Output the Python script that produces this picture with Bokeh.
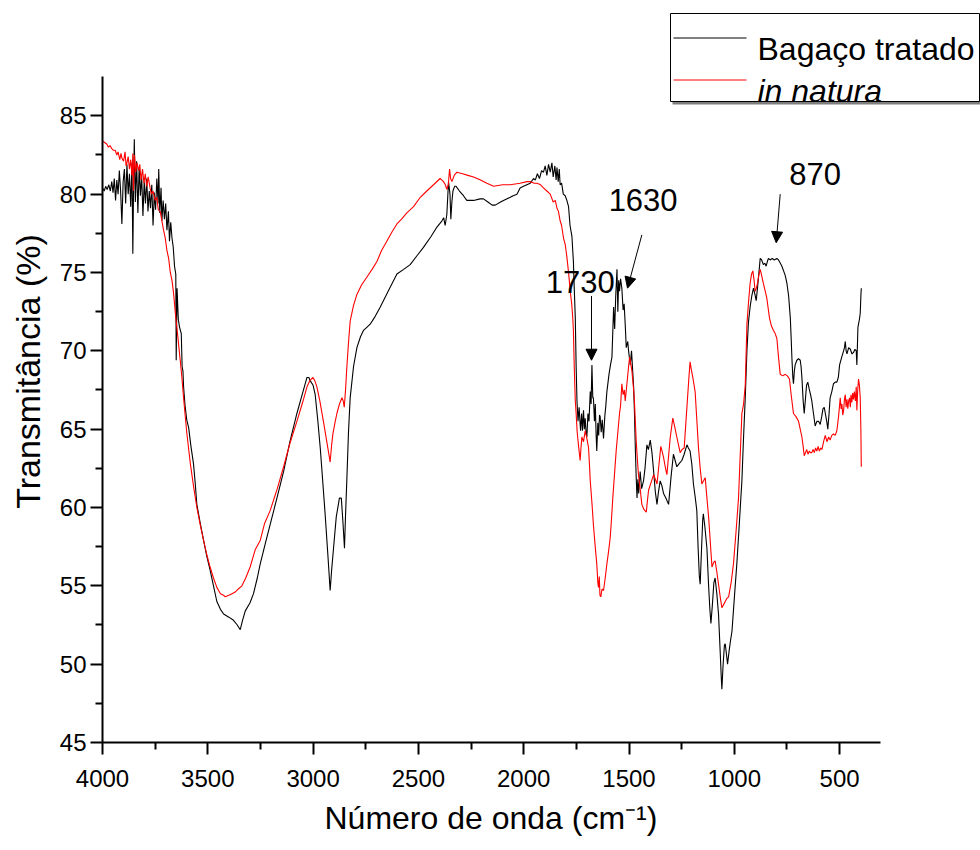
from bokeh.plotting import figure
from bokeh.models import Range1d, FixedTicker, Label, Arrow, NormalHead, BoxAnnotation, Title
from bokeh.embed import file_html
from bokeh.resources import INLINE

# ---------------- data ----------------
tratado_wn = [4000, 3992, 3985, 3978, 3970, 3963, 3956, 3950, 3944, 3938, 3932, 3926, 3920, 3914, 3908, 3902,
              3896, 3890, 3884, 3878, 3872, 3866, 3860, 3856, 3852, 3849, 3844, 3838, 3832, 3826, 3820, 3814,
              3808, 3802, 3796, 3790, 3784, 3778, 3772, 3766, 3760, 3754, 3748, 3742, 3736, 3733, 3728, 3722,
              3718, 3712, 3706, 3700, 3694, 3687, 3682, 3676, 3670, 3664, 3658, 3652, 3650, 3646, 3640, 3634,
              3626, 3622, 3618, 3615, 3608, 3600, 3591, 3580, 3568, 3560, 3552, 3536, 3520, 3505, 3489, 3473,
              3457, 3440, 3425, 3400, 3378, 3360, 3346, 3335, 3322, 3300, 3283, 3265, 3251, 3225, 3204, 3170,
              3140, 3110, 3077, 3050, 3029, 3020, 3014, 3000, 2990, 2978, 2966, 2955, 2943, 2930, 2919, 2912,
              2903, 2890, 2875, 2866, 2858, 2851, 2846, 2840, 2832, 2824, 2808, 2792, 2775, 2761, 2745, 2729,
              2705, 2681, 2640, 2602, 2570, 2539, 2505, 2476, 2440, 2412, 2388, 2380, 2373, 2365, 2357, 2350,
              2346, 2341, 2336, 2328, 2321, 2305, 2286, 2270, 2238, 2207, 2191, 2170, 2150, 2135, 2110, 2096,
              2064, 2050, 2032, 2017, 2001, 1985, 1969, 1953, 1945, 1935, 1925, 1915, 1906, 1898, 1890, 1882,
              1874, 1866, 1860, 1852, 1846, 1842, 1836, 1831, 1827, 1820, 1812, 1803, 1795, 1787, 1780, 1771,
              1764, 1760, 1755, 1751, 1747, 1742, 1737, 1730, 1725, 1721, 1716, 1712, 1708, 1704, 1700, 1695,
              1690, 1684, 1680, 1676, 1672, 1669, 1664, 1660, 1656, 1653, 1648, 1644, 1640, 1637, 1632, 1627,
              1621, 1615, 1610, 1605, 1595, 1588, 1581, 1573, 1568, 1563, 1557, 1553, 1549, 1545, 1540, 1534,
              1528, 1523, 1518, 1513, 1506, 1502, 1494, 1488, 1482, 1478, 1474, 1470, 1466, 1462, 1458, 1454,
              1447, 1440, 1431, 1424, 1415, 1408, 1399, 1391, 1383, 1375, 1367, 1360, 1352, 1344, 1336, 1325,
              1312, 1300, 1289, 1281, 1273, 1262, 1249, 1238, 1225, 1218, 1210, 1202, 1194, 1186, 1178, 1172,
              1166, 1162, 1156, 1150, 1147, 1140, 1130, 1122, 1116, 1111, 1104, 1097, 1091, 1083, 1075, 1067,
              1062, 1059, 1053, 1047, 1043, 1037, 1032, 1025, 1018, 1011, 1000, 988, 976, 964, 956, 948,
              940, 933, 925, 917, 909, 902, 896, 890, 885, 877, 870, 862, 855, 849, 843, 838,
              830, 820, 810, 798, 790, 782, 774, 766, 758, 750, 742, 734, 730, 726, 722, 719,
              715, 711, 703, 695, 687, 683, 679, 673, 668, 663, 657, 651, 645, 638, 632, 624,
              616, 608, 600, 592, 585, 579, 573, 565, 560, 556, 550, 545, 537, 529, 521, 513,
              506, 500, 490, 481, 477, 473, 469, 465, 457, 449, 441, 434, 427, 421, 418, 413,
              406, 402, 399, 397]
tratado_t = [80.4, 80.2, 80.5, 80.3, 80.6, 80.2, 80.8, 80.1, 81.0, 79.6, 80.9, 80.0, 81.5, 80.2, 78.1, 80.8,
             81.6, 79.4, 81.9, 80.0, 81.3, 79.2, 82.0, 76.2, 81.0, 83.5, 79.5, 82.1, 78.8, 81.7, 79.9, 81.2,
             78.6, 80.8, 79.4, 81.0, 78.9, 80.2, 79.1, 80.6, 78.0, 80.1, 79.0, 81.0, 79.4, 81.6, 78.8, 80.4,
             78.3, 79.6, 78.4, 79.4, 77.7, 78.9, 77.0, 78.2, 77.2, 76.6, 75.4, 74.9, 69.4, 74.0, 72.0, 71.5,
             71.1, 69.0, 68.7, 67.7, 66.5, 65.6, 65.1, 63.9, 62.8, 61.6, 60.2, 59.0, 57.9, 56.9, 56.0, 55.0,
             54.0, 53.5, 53.2, 53.0, 52.8, 52.5, 52.2, 52.8, 53.4, 53.9, 54.5, 55.5, 56.4, 57.8, 58.9, 60.7,
             62.3, 64.2, 66.0, 67.3, 68.3, 68.3, 68.1, 67.8, 67.2, 65.6, 63.8, 61.8, 59.6, 57.0, 54.7, 56.0,
             57.4, 59.4, 60.6, 60.6, 59.0, 57.4, 59.5, 61.7, 64.8, 67.0, 69.0, 70.2, 70.9, 71.3, 71.5, 71.7,
             72.2, 72.8, 73.9, 74.9, 75.2, 75.5, 76.1, 76.6, 77.3, 77.9, 78.3, 78.5, 78.0, 78.7, 80.8, 80.0,
             78.4, 79.5, 80.2, 80.5, 80.5, 80.2, 79.9, 79.6, 79.6, 79.7, 79.7, 79.5, 79.3, 79.3, 79.5, 79.6,
             79.8, 79.9, 80.0, 80.4, 80.5, 80.6, 80.7, 81.0, 80.9, 81.3, 81.0, 81.5, 81.4, 81.8, 81.2, 81.9,
             81.4, 82.0, 81.1, 81.8, 80.9, 81.7, 80.8, 81.6, 80.6, 80.7, 80.0, 79.9, 79.6, 79.2, 78.0, 77.3,
             75.7, 74.0, 72.1, 69.0, 66.8, 65.5, 66.4, 64.9, 66.0, 64.9, 66.2, 65.0, 65.7, 64.8, 64.5, 66.0,
             65.5, 67.4, 66.6, 69.1, 67.0, 67.0, 65.5, 66.6, 64.6, 63.6, 65.4, 64.6, 65.9, 65.8, 64.8, 65.6,
             64.4, 65.8, 66.5, 67.4, 68.5, 69.1, 69.6, 72.8, 71.4, 73.5, 75.2, 72.5, 74.5, 73.8, 74.6, 74.0,
             72.6, 73.0, 71.7, 70.2, 70.6, 70.0, 69.1, 70.0, 68.6, 67.7, 66.0, 63.8, 62.0, 60.6, 61.8, 60.9,
             62.3, 61.2, 61.7, 62.5, 64.0, 63.7, 64.3, 63.5, 62.3, 61.0, 60.2, 61.0, 61.7, 61.4, 60.9, 60.6,
             60.2, 62.0, 63.4, 63.0, 62.6, 62.8, 63.0, 63.4, 64.0, 63.8, 63.6, 62.8, 61.5, 60.7, 59.8, 57.5,
             55.6, 55.1, 57.2, 59.2, 59.6, 58.8, 57.4, 55.0, 53.5, 52.6, 53.8, 55.2, 55.5, 54.5, 53.2, 50.8,
             49.2, 48.4, 50.0, 51.2, 51.3, 50.6, 50.0, 50.8, 51.5, 52.1, 54.2, 56.4, 59.0, 61.7, 64.5, 67.0,
             70.0, 71.8, 72.8, 73.5, 74.0, 73.6, 73.2, 74.0, 74.7, 75.9, 75.8, 75.5, 75.6, 75.4, 75.7, 75.9,
             75.8, 75.9, 75.8, 75.9, 75.8, 75.6, 75.4, 75.1, 74.8, 74.3, 73.5, 72.1, 70.8, 69.4, 68.3, 67.9,
             68.7, 69.1, 69.4, 69.5, 69.4, 69.0, 68.3, 66.8, 66.0, 66.8, 67.8, 68.0, 67.6, 67.2, 66.8, 66.0,
             65.2, 65.5, 65.5, 65.3, 65.8, 66.3, 66.4, 65.8, 65.4, 65.0, 66.0, 67.0, 67.4, 67.9, 68.0, 68.0,
             68.3, 69.1, 69.6, 70.0, 70.2, 70.6, 70.0, 69.8, 70.2, 70.1, 69.8, 69.9, 70.1, 70.0, 69.1, 71.5,
             72.0, 72.4, 73.5, 74.0]

natura_wn = [4000, 3990, 3980, 3972, 3964, 3956, 3948, 3940, 3932, 3926, 3918, 3912, 3908, 3900, 3893, 3888,
             3884, 3878, 3872, 3866, 3860, 3856, 3853, 3848, 3842, 3836, 3829, 3823, 3817, 3810, 3803, 3797,
             3790, 3783, 3774, 3768, 3760, 3750, 3742, 3735, 3726, 3718, 3710, 3702, 3694, 3686, 3678, 3670,
             3662, 3654, 3647, 3640, 3631, 3623, 3615, 3600, 3583, 3567, 3552, 3536, 3520, 3505, 3489, 3473,
             3457, 3440, 3425, 3417, 3400, 3385, 3370, 3355, 3338, 3320, 3299, 3275, 3251, 3230, 3204, 3170,
             3140, 3110, 3077, 3050, 3029, 3015, 3001, 2992, 2982, 2968, 2951, 2935, 2919, 2912, 2906, 2895,
             2887, 2875, 2863, 2857, 2852, 2846, 2840, 2832, 2824, 2808, 2792, 2770, 2745, 2720, 2697, 2675,
             2650, 2625, 2602, 2580, 2555, 2523, 2491, 2460, 2428, 2397, 2388, 2381, 2372, 2365, 2358, 2352,
             2347, 2341, 2330, 2317, 2290, 2265, 2238, 2205, 2175, 2143, 2100, 2064, 2017, 1985, 1969, 1950,
             1937, 1920, 1906, 1890, 1874, 1860, 1850, 1842, 1835, 1827, 1820, 1811, 1803, 1795, 1787, 1779,
             1772, 1767, 1764, 1760, 1755, 1751, 1746, 1740, 1736, 1732, 1728, 1724, 1716, 1708, 1700, 1692,
             1688, 1684, 1676, 1669, 1661, 1653, 1648, 1645, 1641, 1638, 1634, 1628, 1621, 1613, 1605, 1597,
             1589, 1583, 1577, 1569, 1561, 1553, 1545, 1540, 1534, 1528, 1522, 1518, 1512, 1507, 1502, 1497,
             1492, 1486, 1480, 1475, 1470, 1466, 1460, 1455, 1447, 1439, 1430, 1418, 1412, 1407, 1395, 1383,
             1375, 1367, 1358, 1349, 1343, 1336, 1328, 1320, 1312, 1304, 1298, 1292, 1282, 1273, 1265, 1257,
             1248, 1238, 1230, 1222, 1216, 1210, 1204, 1197, 1192, 1186, 1178, 1170, 1162, 1154, 1146, 1138,
             1130, 1122, 1114, 1106, 1098, 1091, 1083, 1075, 1067, 1059, 1051, 1043, 1035, 1027, 1015, 1004,
             992, 980, 972, 964, 956, 948, 940, 933, 925, 918, 912, 906, 901, 895, 890, 884,
             877, 870, 862, 855, 846, 840, 833, 824, 814, 806, 798, 790, 782, 770, 758, 748,
             738, 730, 719, 707, 695, 687, 679, 673, 668, 662, 656, 650, 644, 638, 632, 626,
             620, 614, 608, 602, 596, 590, 584, 576, 568, 560, 552, 545, 537, 529, 521, 513,
             505, 497, 493, 489, 485, 481, 477, 473, 469, 465, 461, 457, 453, 449, 446, 442,
             438, 434, 430, 425, 421, 418, 414, 410, 406, 402, 399, 397]
natura_t = [83.4, 83.3, 83.2, 83.0, 83.1, 82.9, 82.8, 82.8, 82.5, 82.7, 82.2, 82.6, 82.3, 82.1, 82.7, 81.8,
            82.0, 82.4, 81.6, 82.2, 81.2, 82.6, 80.2, 82.5, 81.4, 82.0, 81.5, 81.9, 80.9, 81.6, 80.7, 81.3,
            80.5, 81.1, 80.4, 80.0, 80.2, 79.6, 79.8, 79.0, 78.9, 78.3, 77.7, 77.2, 76.4, 75.9, 75.0, 74.5,
            73.6, 72.4, 71.5, 70.6, 69.4, 68.3, 67.0, 64.8, 62.8, 61.3, 60.0, 58.9, 57.9, 57.0, 56.2, 55.5,
            54.9, 54.5, 54.4, 54.3, 54.4, 54.5, 54.6, 54.8, 55.0, 55.5, 56.2, 57.3, 57.9, 59.0, 59.8, 61.2,
            62.6, 64.1, 65.5, 66.7, 67.7, 68.1, 68.3, 68.1, 67.7, 66.8, 65.5, 64.2, 62.9, 64.0, 64.7, 65.5,
            66.0, 66.6, 67.0, 66.8, 66.4, 67.5, 68.9, 70.5, 71.9, 72.9, 73.6, 74.2, 74.7, 75.2, 75.7, 76.4,
            77.0, 77.6, 78.1, 78.4, 78.8, 79.2, 79.8, 80.2, 80.6, 81.0, 80.9, 80.8, 80.6, 80.3, 80.6, 81.6,
            81.0, 80.8, 81.2, 81.4, 81.3, 81.2, 81.1, 80.9, 80.7, 80.5, 80.6, 80.6, 80.7, 80.8, 80.8, 80.7,
            80.7, 80.6, 80.4, 80.2, 80.0, 79.5, 79.6, 79.1, 78.9, 78.3, 78.0, 77.2, 76.8, 76.0, 75.0, 73.8,
            73.0, 72.1, 71.3, 69.0, 66.8, 66.0, 64.8, 64.0, 63.5, 63.0, 63.8, 64.5, 64.2, 64.9, 64.4, 63.8,
            62.8, 61.7, 60.3, 58.9, 57.6, 56.4, 55.2, 54.9, 55.6, 54.4, 54.3, 54.8, 54.7, 55.5, 56.4, 57.2,
            58.1, 59.3, 60.6, 62.1, 63.6, 64.8, 66.0, 66.5, 67.9, 67.2, 67.5, 66.8, 67.6, 68.3, 69.0, 69.6,
            69.2, 68.7, 67.8, 67.0, 65.5, 64.3, 63.0, 62.1, 61.2, 60.2, 59.9, 59.7, 60.5, 61.1, 61.6, 62.1,
            61.8, 61.5, 62.7, 63.9, 63.6, 63.2, 62.6, 62.1, 63.3, 64.5, 65.1, 65.7, 65.1, 64.5, 64.0, 63.5,
            63.7, 63.8, 65.4, 67.0, 68.2, 69.3, 68.8, 68.3, 67.9, 67.4, 65.6, 63.8, 62.5, 61.5, 61.7, 61.9,
            60.6, 59.4, 57.8, 56.2, 56.5, 56.6, 55.9, 55.1, 54.3, 53.6, 53.8, 54.0, 54.2, 54.3, 55.2, 56.4,
            58.4, 60.6, 63.3, 66.0, 66.6, 67.8, 71.7, 73.0, 74.3, 74.9, 75.1, 74.5, 73.8, 74.0, 74.3, 74.8,
            75.2, 74.8, 74.3, 73.9, 73.4, 72.8, 72.1, 71.6, 71.3, 71.1, 70.8, 69.6, 68.5, 68.4, 68.5, 68.4,
            68.2, 67.2, 66.0, 65.8, 65.5, 65.0, 64.5, 63.9, 63.3, 63.5, 63.7, 63.4, 63.6, 63.5, 63.5, 63.7,
            63.5, 63.8, 63.6, 63.9, 63.6, 63.8, 63.7, 64.2, 64.6, 64.2, 64.5, 64.3, 64.6, 64.7, 64.6, 64.9,
            65.8, 67.0, 66.3, 66.6, 65.9, 66.2, 66.9, 67.2, 66.4, 66.9, 66.3, 66.8, 67.0, 66.4, 67.2, 66.7,
            67.3, 66.9, 67.4, 66.8, 67.7, 66.2, 67.5, 68.2, 67.8, 67.0, 65.0, 62.6]

x_ticks = [4000, 3500, 3000, 2500, 2000, 1500, 1000, 500]
x_minor = [3750, 3250, 2750, 2250, 1750, 1250, 750]
y_ticks = [45, 50, 55, 60, 65, 70, 75, 80, 85]
y_minor = [47.5, 52.5, 57.5, 62.5, 67.5, 72.5, 77.5, 82.5]
x_axis_extent = (307, 4000)
y_axis_extent = (45, 87.5)

x_title = "Número de onda (cm⁻¹)"
y_title = "Transmitância (%)"
series_names = ["Bagaço tratado", "in natura"]
peak_labels = ["1730", "1630", "870"]
# label anchor (wavenumber, %T) and arrow start/end in data units
peak_text_pos = [(1732, 74.4), (1433, 79.6), (616, 81.3)]
peak_arrows = [((1678, 73.5), (1678, 69.4)), ((1439, 77.4), (1507, 74.0)), ((782, 80.0), (801, 76.9))]

FONT = "Liberation Sans"

# ---------------- figure ----------------
W, H = 980, 850
FL, FB = 102, 742          # frame left / bottom in canvas px (frame reaches canvas top and right)
PX_PER_WN = 0.2106         # px per cm-1
PX_PER_T = 15.667          # px per % transmittance
x_end = 4000 - (W - FL) / PX_PER_WN
y_top = 45 + FB / PX_PER_T

p = figure(width=W, height=H, output_backend="svg", toolbar_location=None,
           x_range=Range1d(4000, x_end), y_range=Range1d(45, y_top),
           min_border_left=FL, min_border_right=0, min_border_top=0, min_border_bottom=H - FB)
p.outline_line_color = None
p.xgrid.visible = False
p.ygrid.visible = False
p.background_fill_color = "white"
p.border_fill_color = "white"

p.xaxis.ticker = FixedTicker(ticks=x_ticks, minor_ticks=x_minor)
p.yaxis.ticker = FixedTicker(ticks=y_ticks, minor_ticks=y_minor)
p.xaxis.bounds = x_axis_extent
p.yaxis.bounds = y_axis_extent

for ax in (p.xaxis[0], p.yaxis[0]):
    ax.axis_line_width = 2
    ax.axis_line_color = "black"
    ax.major_tick_line_width = 2
    ax.minor_tick_line_width = 2
    ax.major_tick_line_color = "black"
    ax.minor_tick_line_color = "black"
    ax.major_tick_out = 12
    ax.major_tick_in = 0
    ax.minor_tick_out = 7
    ax.minor_tick_in = 0
    ax.major_label_text_font = FONT
    ax.major_label_text_font_size = "24px"
    ax.major_label_text_color = "black"
    ax.axis_label_text_font = FONT
    ax.axis_label_text_font_style = "normal"
    ax.axis_label_text_color = "black"

p.yaxis.axis_label = y_title
p.yaxis.axis_label_text_font_size = "34px"
p.xaxis.major_label_standoff = 15
p.yaxis.major_label_standoff = 4
p.yaxis.axis_label_standoff = 10

# x-axis title centred under the drawn axis (the frame extends to the right for the legend)
p.add_layout(Title(text=x_title, align="left", offset=222, standoff=16,
                   text_font=FONT, text_font_size="32px", text_font_style="normal",
                   text_color="black"), "below")

p.line(tratado_wn, tratado_t, line_color="black", line_width=1.1)
p.line(natura_wn, natura_t, line_color="#ff0000", line_width=1.1)

for txt, (tx, ty) in zip(peak_labels, peak_text_pos):
    p.add_layout(Label(x=tx, y=ty, text=txt, text_align="center", text_baseline="middle",
                       text_font=FONT, text_font_size="31px", text_color="black"))
for (s, e) in peak_arrows:
    p.add_layout(Arrow(end=NormalHead(size=11, fill_color="black", line_color="black"),
                       x_start=s[0], y_start=s[1], x_end=e[0], y_end=e[1],
                       line_color="black", line_width=1))

# ---------------- legend (drawn in screen units) ----------------
def sx(px):
    return px - FL

def sy(py):
    return FB - py

p.add_layout(BoxAnnotation(left=sx(672), right=sx(982), top=sy(15), bottom=sy(104),
                           left_units="screen", right_units="screen", top_units="screen", bottom_units="screen",
                           fill_color="#7f7f7f", fill_alpha=1, line_color=None))
p.add_layout(BoxAnnotation(left=sx(670), right=sx(979), top=sy(13), bottom=sy(101),
                           left_units="screen", right_units="screen", top_units="screen", bottom_units="screen",
                           fill_color="white", fill_alpha=1, line_color="black", line_width=1, line_alpha=1))
for yy, col in ((37.5, "black"), (79.5, "#ff0000")):
    p.add_layout(Arrow(end=None, x_start=sx(673), y_start=sy(yy), x_end=sx(746), y_end=sy(yy),
                       start_units="screen", end_units="screen", line_color=col, line_width=1))
p.add_layout(Label(x=sx(757), y=sy(48.5), x_units="screen", y_units="screen", text=series_names[0],
                   text_font=FONT, text_font_size="32px", text_baseline="alphabetic", text_color="black"))
p.add_layout(Label(x=sx(757), y=sy(90.5), x_units="screen", y_units="screen", text=series_names[1],
                   text_font=FONT, text_font_size="32px", text_font_style="italic",
                   text_baseline="alphabetic", text_color="black"))

open("out.html", "w").write(file_html(p, INLINE))
